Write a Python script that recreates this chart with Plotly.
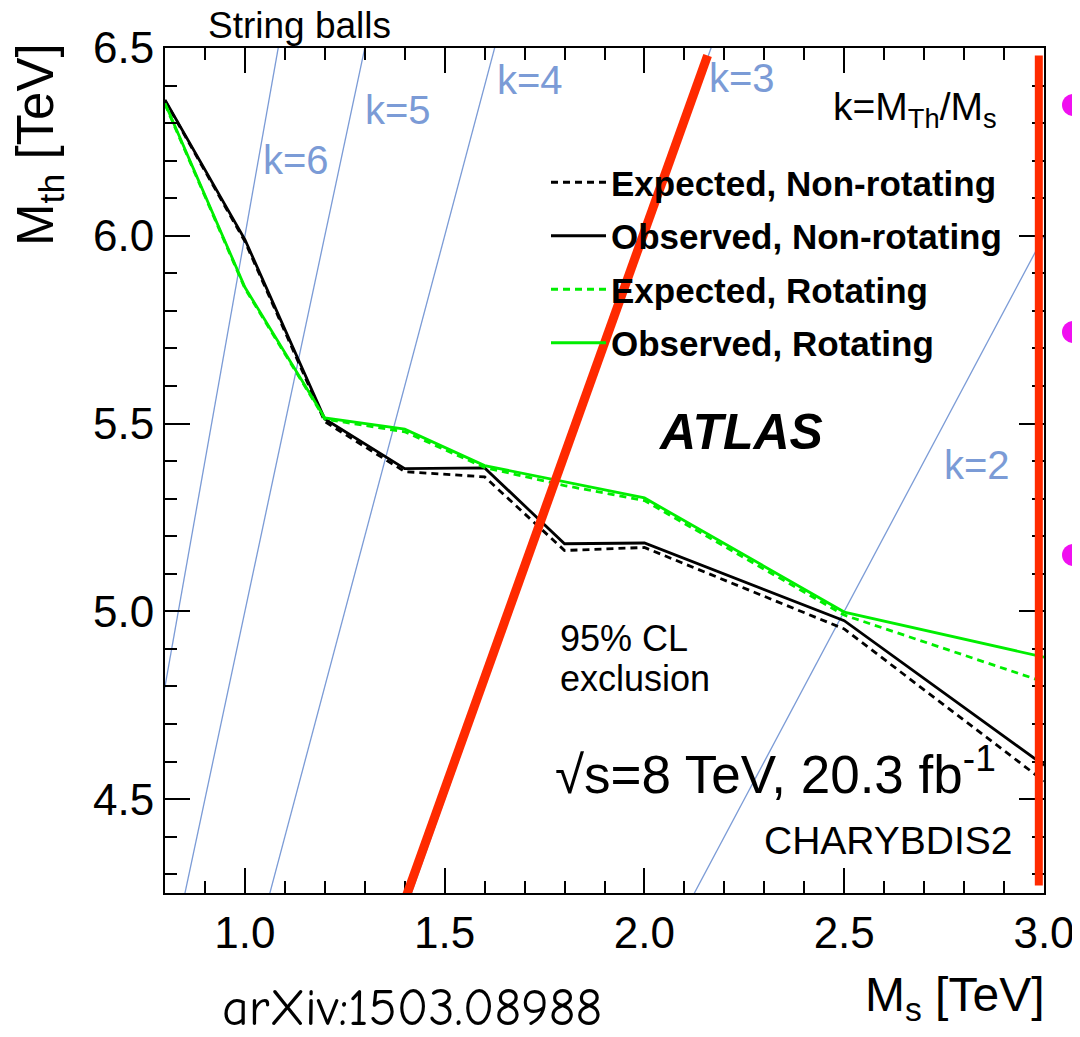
import plotly.graph_objects as go

# ---------------- data ----------------
ms = [0.8, 1.0, 1.2, 1.4, 1.6, 1.8, 2.0, 2.5, 3.0]
exp_nonrot = [6.36, 5.985, 5.505, 5.372, 5.358, 5.162, 5.170, 4.953, 4.548]
obs_nonrot = [6.362, 5.99, 5.512, 5.380, 5.382, 5.180, 5.182, 4.975, 4.590]
exp_rot = [6.35, 5.86, 5.512, 5.478, 5.383, 5.335, 5.295, 4.990, 4.812]
obs_rot = [6.353, 5.863, 5.515, 5.485, 5.388, 5.345, 5.302, 4.998, 4.878]

series_names = ["Expected, Non-rotating", "Observed, Non-rotating",
                "Expected, Rotating", "Observed, Rotating"]

k_values = [2, 3, 4, 5, 6]
k_line_ms = [0.5, 3.5]

# overlay red marks (presenter annotations)
red_diag_x = [1.40, 2.158]
red_diag_y = [4.23, 6.48]
red_vert_x = 2.987
red_vert_y = [4.27, 6.48]

x_range = [0.8, 3.0]
y_range = [4.25, 6.5]

# ---------------- layout constants ----------------
W, H = 1080, 1037
OFF = 8  # page body offset
PL, PR, PT, PB = 165, 1044, 48, 893
FONT = "Liberation Sans, Arial, Helvetica, sans-serif"


def px(x):
    return (x - PL) / (PR - PL)


def py(y):
    return (PB - y) / (PB - PT)


fig = go.Figure()

# k lines
blue = "#7b9bd6"
for k in k_values:
    fig.add_trace(go.Scatter(
        x=k_line_ms, y=[k * v for v in k_line_ms], mode="lines",
        line=dict(color=blue, width=1.3), showlegend=False, hoverinfo="skip"))

black = "#000000"
green = "#00ee00"
styles = [
    (exp_nonrot, black, "7px,5px"),
    (obs_nonrot, black, "solid"),
    (exp_rot, green, "7px,5px"),
    (obs_rot, green, "solid"),
]
for i, (vals, col, dash) in enumerate(styles):
    fig.add_trace(go.Scatter(
        x=ms, y=vals, mode="lines", name=series_names[i],
        line=dict(color=col, width=2.8, dash=dash),
        legendgroup=f"g{i}"))

shapes = []
red = "#ff2a00"
shapes.append(dict(type="line", xref="x", yref="y",
                   x0=red_diag_x[0], y0=red_diag_y[0], x1=red_diag_x[1], y1=red_diag_y[1],
                   line=dict(color=red, width=9), layer="above"))
shapes.append(dict(type="line", xref="x", yref="y",
                   x0=red_vert_x, y0=red_vert_y[0], x1=red_vert_x, y1=red_vert_y[1],
                   line=dict(color=red, width=8), layer="above"))
# magenta bullet dots cropped at right edge
for cy in [105, 332, 555]:
    shapes.append(dict(type="circle", xref="paper", yref="paper",
                       x0=px(1062), x1=px(1084), y0=py(cy + 11), y1=py(cy - 11),
                       fillcolor="#f010f0", line=dict(width=0)))

ann = []


def text(t, x, y, size, color="black", xanchor="center", yanchor="middle", angle=0, family=FONT):
    ann.append(dict(text=t, x=px(x), y=py(y), xref="paper", yref="paper",
                    xanchor=xanchor, yanchor=yanchor, showarrow=False, textangle=angle,
                    font=dict(size=size, color=color, family=family)))


text("String balls", 299, 26, 37)
text("M<sub>th</sub> [TeV]", 39, 145, 51, angle=-90)
text("M<sub>s</sub> [TeV]", 955, 998, 48)
text("arXiv:1503.08988", 412, 1008, 52, family="Comic Sans MS, Comic Neue, Noto Sans, sans-serif")
text("k=M<sub>Th</sub>/M<sub>s</sub>", 915, 110, 39)
text("<b><i>ATLAS</i></b>", 740, 432, 50)
text("95% CL", 558, 638, 36, xanchor="left")
text("exclusion", 558, 678, 36, xanchor="left")
text("√s=8 TeV, 20.3 fb<sup>-1</sup>", 553, 770, 53, xanchor="left")
text("CHARYBDIS2", 1015, 840, 39, xanchor="right")
text("k=2", 977, 465, 40, color=blue)
text("k=3", 742, 78, 40, color=blue)
text("k=4", 530, 80, 40, color=blue)
text("k=5", 398, 110, 40, color=blue)
text("k=6", 296, 160, 40, color=blue)

axis_common = dict(
    showline=True, linecolor="black", linewidth=2, mirror="allticks",
    ticks="inside", ticklen=25, tickwidth=1.5, tickcolor="black",
    showgrid=False, zeroline=False,
    tickfont=dict(size=44, family=FONT, color="black"),
    tickformat=".1f",
    minor=dict(ticks="inside", ticklen=12, tickwidth=1.5, tickcolor="black", dtick=0.1, showgrid=False),
)

fig.update_layout(
    width=W, height=H,
    margin=dict(l=PL - OFF, r=W - (PR - OFF), t=PT - OFF, b=H - (PB - OFF), autoexpand=False),
    paper_bgcolor="white", plot_bgcolor="white",
    xaxis=dict(range=x_range, dtick=0.5, tick0=0, **axis_common),
    yaxis=dict(range=y_range, dtick=0.5, tick0=0, **axis_common),
    shapes=shapes, annotations=ann,
    showlegend=True,
    legend=dict(x=px(546), y=py(153), xanchor="left", yanchor="top",
                bgcolor="rgba(0,0,0,0)", borderwidth=0,
                font=dict(size=35, family=FONT, color="black", weight="bold"),
                itemwidth=55, traceorder="grouped", tracegroupgap=5),
    font=dict(family=FONT),
)

fig.write_html("out.html")
